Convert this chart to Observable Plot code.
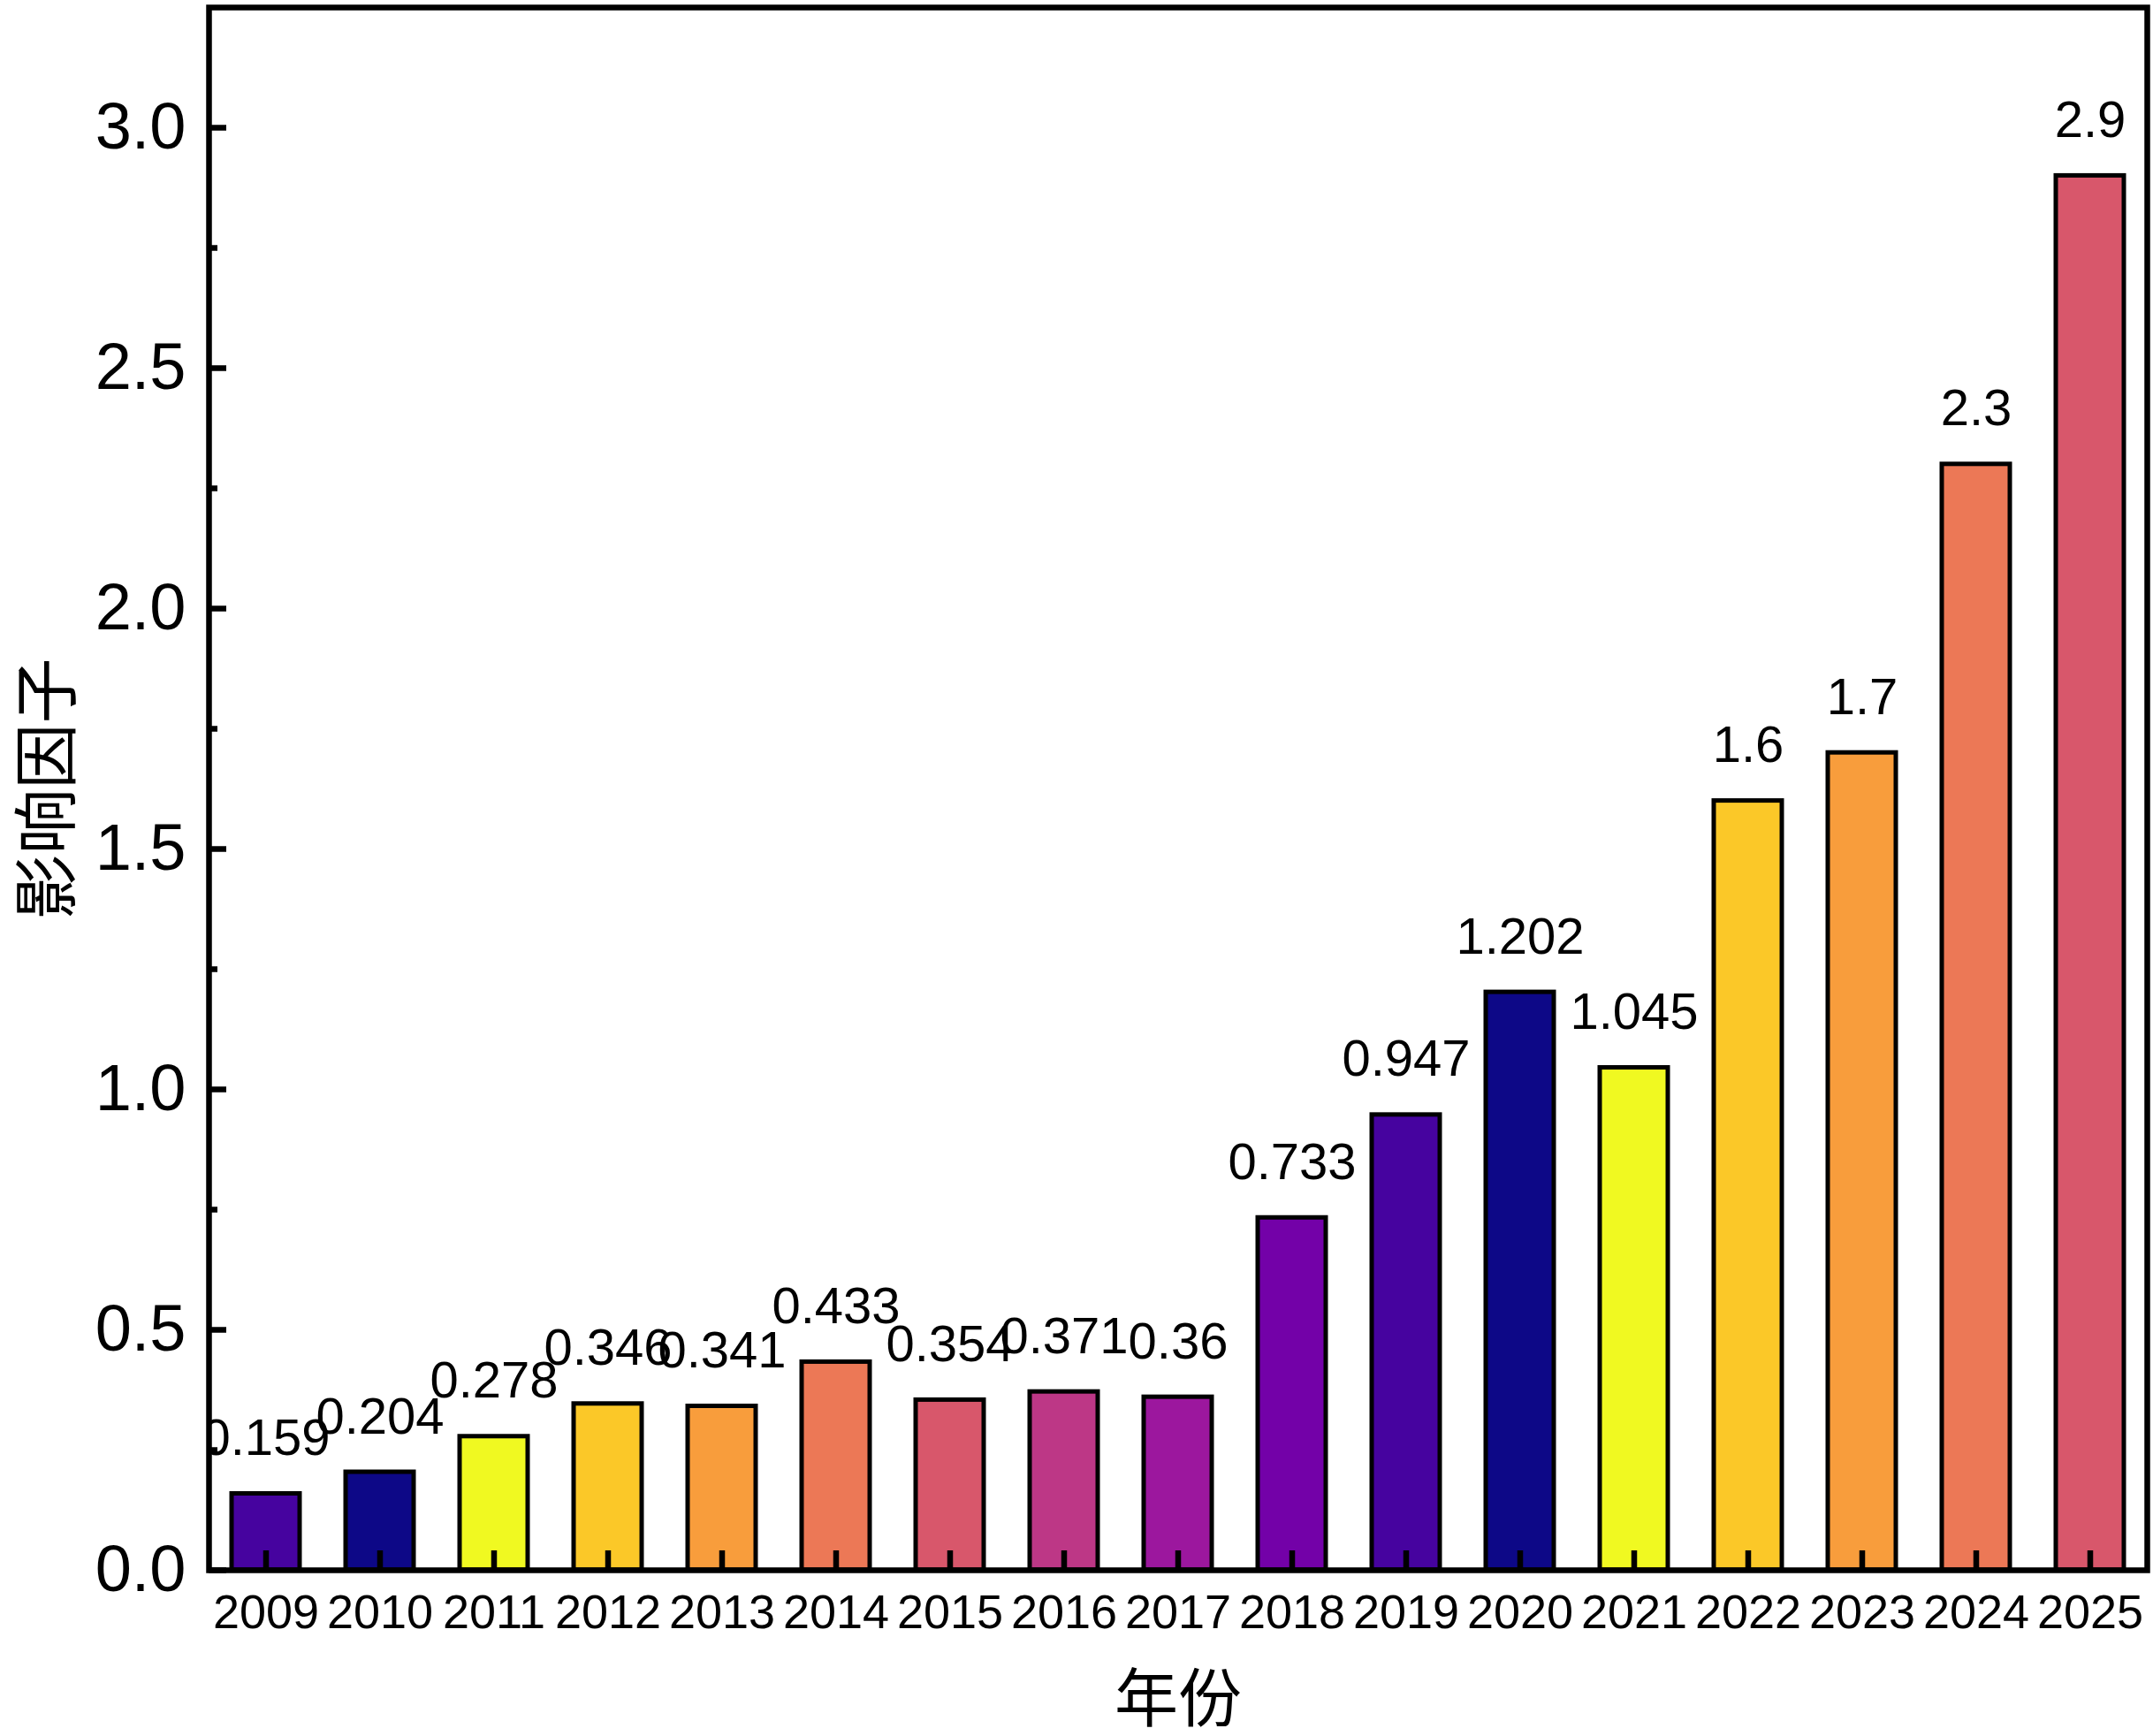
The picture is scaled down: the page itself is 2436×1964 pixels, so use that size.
<!DOCTYPE html>
<html>
<head>
<meta charset="utf-8">
<script src="https://cdn.jsdelivr.net/npm/d3@7"></script>
<script src="https://cdn.jsdelivr.net/npm/@observablehq/plot@0.6"></script>
<style>
  html, body { margin: 0; padding: 0; background: #ffffff; }
  #chart svg { display: block; }
</style>
</head>
<body>
<div id="chart"></div>
<script>
const years = ["2009","2010","2011","2012","2013","2014","2015","2016","2017","2018","2019","2020","2021","2022","2023","2024","2025"];
const values = [0.159, 0.204, 0.278, 0.346, 0.341, 0.433, 0.354, 0.371, 0.36, 0.733, 0.947, 1.202, 1.045, 1.6, 1.7, 2.3, 2.9];
const colors = ["#46039f","#0d0887","#f0f921","#fbc828","#f89d3c","#ec7856","#d8576b","#bd3786","#9c179e","#7301a8","#46039f","#0d0887","#f0f921","#fbc828","#f89d3c","#ec7856","#d8576b"];
const yMajor = [0, 0.5, 1.0, 1.5, 2.0, 2.5, 3.0];
const yMinor = [0.25, 0.75, 1.25, 1.75, 2.25, 2.75];
const xTitle = "年份";
const yTitle = "影响因子";

const data = years.map((y, i) => ({year: y, value: values[i], color: colors[i]}));
const latin = "'Liberation Sans', Arial, sans-serif";
const cjk = "'Liberation Sans', 'Noto Sans CJK SC', sans-serif";

const chart = Plot.plot({
  width: 2436,
  height: 1964,
  marginLeft: 236,
  marginRight: 7,
  marginTop: 8,
  marginBottom: 188,
  style: {background: "white", fontFamily: latin, color: "black", overflow: "visible"},
  x: {type: "band", domain: years, paddingInner: 0.4, paddingOuter: 0.2},
  y: {domain: [0, 3.25]},
  color: {type: "identity"},
  marks: [
    Plot.barY(data, {x: "year", y: "value", fill: "color", stroke: "black", strokeWidth: 5}),
    Plot.text(data, {x: "year", y: "value", text: d => String(d.value), lineAnchor: "bottom", dy: -44, fontSize: 58, fill: "black", fontFamily: latin, clip: "frame"}),
    Plot.axisX({tickSize: -22, strokeWidth: 6.5, stroke: "black", fill: "none"}),
    Plot.axisX({tickSize: 0, tickPadding: 27, fontSize: 54, fill: "black", label: null}),
    Plot.axisX({tickSize: 0, tickFormat: () => "", fontSize: 72, fill: "black", fontFamily: cjk, label: xTitle, labelAnchor: "center", labelArrow: "none", labelOffset: 170}),
    Plot.axisY(yMajor, {tickSize: -20, strokeWidth: 6.5, stroke: "black", fill: "none"}),
    Plot.axisY(yMinor, {tickSize: -10, strokeWidth: 6.5, stroke: "black", fill: "none"}),
    Plot.axisY(yMajor, {tickSize: 0, tickPadding: 26, fontSize: 74, fill: "black", fontFamily: cjk, tickFormat: d3.format(".1f"), label: yTitle, labelAnchor: "center", labelArrow: "none", labelOffset: 210}),
    Plot.frame({stroke: "black", strokeWidth: 6.5})
  ]
});
document.getElementById("chart").appendChild(chart);
</script>
</body>
</html>
